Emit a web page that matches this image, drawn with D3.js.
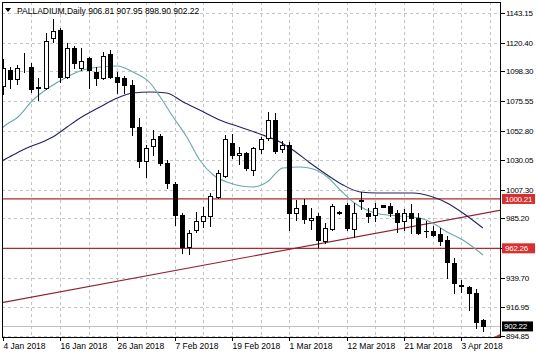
<!DOCTYPE html>
<html><head><meta charset="utf-8">
<script src="https://cdn.jsdelivr.net/npm/d3@7"></script>
<style>body{margin:0;background:#fff}svg{display:block;font-family:"Liberation Sans",Arial,sans-serif}</style>
</head><body><svg id="c" width="536" height="357"></svg>
<script>
const symbolName = "PALLADIUM,Daily";
const opens = [1087.03,1099.33,1092.41,1100.5,1101.64,1085.49,1085.49,1123.93,1130.08,1093.95,
1116.24,1100.87,1108.56,1097.79,1093.18,1111.63,1093.95,1093.18,1087.80,1055.52,
1029.38,1040.91,1048.60,1027.84,1011.70,987.87,963.27,976.34,983.26,987.10,
1001.71,1017.85,1043.22,1033.99,1035.53,1022.46,1038.60,1047.06,1060.90,1038.60,
1041.68,989.41,995.56,984.03,987.10,967.88,977.11,990.0,995.56,977.11,
998.63,989.41,987.87,995.2,994.79,989.41,983.26,989.41,985.56,975.57,
975.57,973.26,968.65,950.97,933.68,932.52,927.91,906.81];
const highs = [1107.79,1101.64,1103.17,1112.40,1104.71,1093.18,1127.77,1138.53,1131.62,1120.09,
1117.78,1116.24,1109.32,1101.64,1113.17,1114.70,1097.79,1094.72,1091.64,1062.43,
1041.68,1053.21,1050.13,1030.15,1013.24,989.41,976.34,990.18,994.02,1004.78,
1022.46,1049.37,1050.13,1040.14,1036.30,1040.14,1047.83,1067.05,1066.28,1044.75,
1043.98,999.40,1000.17,993.25,989.41,981.72,996.33,990.6,997.09,997.09,
1005.8,993.25,997.09,995.56,997.09,991.71,992.48,996.33,989.41,983.26,
979.41,977.88,971.73,954.82,937.90,933.29,930.99,907.95];
const lows = [1080.88,1085.49,1088.57,1097.79,1082.42,1076.27,1084.73,1120.85,1090.11,1093.18,
1100.87,1099.33,1085.49,1087.80,1092.41,1093.18,1081.65,1081.65,1049.37,1024.77,
1017.08,1033.99,1026.30,1008.62,980.18,958.66,957.89,974.80,978.65,979.41,
1000.94,1017.08,1031.69,1027.07,1022.46,1018.62,1035.53,1045.52,1035.53,1036.30,
976.34,984.03,981.72,977.11,963.27,966.35,976.34,988.6,976.34,970.96,
992.48,982.49,983.26,994.02,987.10,974.80,976.34,974.03,973.26,970.96,
971.73,964.81,939.44,927.91,928.68,914.84,901.01,898.90];
const closes = [1100.87,1092.41,1100.87,1101.2,1084.73,1085.9,1121.62,1129.31,1093.95,1116.24,
1104.71,1106.25,1099.33,1093.18,1110.09,1093.95,1090.11,1087.80,1055.52,1029.38,
1039.37,1046.29,1027.84,1012.47,987.87,963.27,974.03,983.26,987.10,1002.47,
1020.15,1046.29,1033.99,1035.53,1024.00,1039.37,1046.29,1060.90,1037.07,1041.68,
989.41,993.25,984.79,985.56,968.65,977.88,994.79,989.1,977.88,989.41,
999.40,987.10,993.25,994.4,989.41,982.49,989.41,985.56,974.03,975.2,
972.50,967.88,951.74,935.60,932.91,927.91,905.62,902.22];

const fastMAIdx = [-0.35,0.63,2.0,4.25,6.6,9.0,11.2,13.6,16.0,18.2,20.6,22.0,23.8,25.7,27.5,29.4,31.7,34.9,36.9,39.1,41.5,43.3,45.3,47.1,48.9,50.8,52.6,55.4,58.2,60.0,62.0,64.2,65.6,67];
const fastMAVal = [1053.21,1057.82,1062.43,1076.27,1086.26,1093.95,1099.33,1101.64,1102.41,1097.79,1089.33,1078.57,1063.20,1047.83,1030.15,1018.62,1012.47,1009.40,1013.24,1024.00,1024.77,1023.23,1017.08,1007.09,997.86,991.71,988.64,987.10,985.56,981.72,974.80,968.65,963.27,957.12];
const slowMAIdx = [-0.35,1.46,3.4,5.2,7.0,9.0,10.4,13.6,16.0,18.2,20.6,22.9,25.2,27.5,30.3,33.1,35.9,38.7,40.5,42.9,45.3,47.5,49.9,52.2,54.5,57.3,59.6,62.0,64.2,67];
const slowMAVal = [1028.61,1033.99,1039.37,1043.22,1047.83,1055.52,1060.90,1070.89,1077.81,1081.65,1082.42,1081.65,1074.73,1068.58,1060.90,1055.52,1050.13,1043.98,1037.83,1027.84,1018.62,1010.93,1005.55,1004.78,1004.78,1004.78,1002.47,997.09,989.41,977.88];

const levels = [1000.21, 962.26];
const trendIdx = [-0.4, 69.6];
const trendVal = [920.2, 991.7];
const priceTicks = [1143.15,1120.40,1098.30,1075.55,1052.80,1030.05,1007.30,985.20,962.45,939.70,916.95,894.85];
const dateLabels = ["4 Jan 2018","16 Jan 2018","26 Jan 2018","7 Feb 2018","19 Feb 2018","1 Mar 2018","12 Mar 2018","21 Mar 2018","3 Apr 2018"];
const barsPerLabel = 8, barsPerGrid = 4;
const lastPrice = 902.22;

// ---- layout
const L = 2, R = 501, T = 2, B = 337;
const FS = "8px", LS = "-0.25px";
const svg = d3.select("#c");
const x = d3.scaleLinear().domain([0, 67]).range([2.5, 482.9]);
const y = d3.scaleLinear().domain([894.09, 1151.60]).range([B, T]);
const fmt = d3.format(".2f");

svg.append("defs").append("clipPath").attr("id","plot")
  .append("rect").attr("x",L).attr("y",T).attr("width",R-L).attr("height",B-T);

const grid = svg.append("g").attr("stroke","#c4c4c4").attr("stroke-dasharray","3,3").attr("shape-rendering","crispEdges");
priceTicks.forEach(p=>{
  const yy = Math.round(y(p))+0.5;
  grid.append("line").attr("x1",L).attr("x2",R).attr("y1",yy).attr("y2",yy);
});
for(let i=barsPerGrid;x(i)<R-2;i+=barsPerGrid){
  const xx = Math.round(x(i))+0.5;
  grid.append("line").attr("x1",xx).attr("x2",xx).attr("y1",T).attr("y2",B);
}

const plot = svg.append("g").attr("clip-path","url(#plot)");
plot.append("line").attr("x1",L).attr("x2",R).attr("y1",Math.round(y(lastPrice))+0.5).attr("y2",Math.round(y(lastPrice))+0.5)
  .attr("stroke","#c0c0c0").attr("shape-rendering","crispEdges");
levels.forEach(v=>{
  plot.append("line").attr("x1",L).attr("x2",R).attr("y1",y(v)).attr("y2",y(v))
    .attr("stroke","#b02a2a").attr("stroke-width",1.2);
});
plot.append("line").attr("x1",x(trendIdx[0])).attr("x2",x(trendIdx[1]))
  .attr("y1",y(trendVal[0])).attr("y2",y(trendVal[1]))
  .attr("stroke","#8e2233").attr("stroke-width",1.1);

const lineGen = d3.line().x(d=>x(d[0])).y(d=>y(d[1])).curve(d3.curveMonotoneX);
plot.append("path").attr("d",lineGen(slowMAIdx.map((v,i)=>[v,slowMAVal[i]])))
  .attr("fill","none").attr("stroke","#222260").attr("stroke-width",1.1);
plot.append("path").attr("d",lineGen(fastMAIdx.map((v,i)=>[v,fastMAVal[i]])))
  .attr("fill","none").attr("stroke","#6aa8a8").attr("stroke-width",1.1);

const cg = plot.append("g").attr("shape-rendering","crispEdges");
opens.forEach((o,i)=>{
  const c = closes[i], h = highs[i], l = lows[i];
  const cx = Math.round(x(i));
  cg.append("line").attr("x1",cx+0.5).attr("x2",cx+0.5).attr("y1",Math.round(y(h))).attr("y2",Math.round(y(l))+1).attr("stroke","#000");
  const top = Math.round(y(Math.max(o,c))), bot = Math.round(y(Math.min(o,c)));
  if (c >= o) {
    cg.append("rect").attr("x",cx-1.5).attr("y",top+0.5).attr("width",4).attr("height",Math.max(0,bot-top))
      .attr("fill","#fff").attr("stroke","#000");
  } else {
    cg.append("rect").attr("x",cx-2).attr("y",top).attr("width",5).attr("height",Math.max(1,bot-top+1)).attr("fill","#000");
  }
});

svg.append("rect").attr("x",L+0.5).attr("y",T+0.5).attr("width",R-L-1).attr("height",B-T)
  .attr("fill","none").attr("stroke","#000").attr("shape-rendering","crispEdges");

// right axis
const ra = svg.append("g").attr("font-size",FS).attr("letter-spacing",LS).attr("fill","#000");
priceTicks.forEach(p=>{
  const yy = Math.round(y(p))+0.5;
  ra.append("line").attr("x1",R).attr("x2",R+4).attr("y1",yy).attr("y2",yy).attr("stroke","#000").attr("shape-rendering","crispEdges");
  const hidden = levels.some(v=>Math.abs(y(v)-y(p))<6);
  if (!hidden) ra.append("text").attr("x",R+5).attr("y",yy).attr("dy","0.35em").text(fmt(p));
});
levels.forEach(v=>{
  const yy = y(v);
  svg.append("rect").attr("x",R+1).attr("y",yy-5).attr("width",33).attr("height",10).attr("fill","#d63030");
  svg.append("text").attr("x",R+4).attr("y",yy).attr("dy","0.35em").attr("font-size",FS).attr("letter-spacing",LS).attr("fill","#fff").text(fmt(v));
});
{
  const yy = y(lastPrice);
  svg.append("rect").attr("x",R+1).attr("y",yy-5).attr("width",31).attr("height",10).attr("fill","#000");
  svg.append("text").attr("x",R+3).attr("y",yy).attr("dy","0.35em").attr("font-size",FS).attr("letter-spacing",LS).attr("fill","#fff").text(fmt(lastPrice));
}

// bottom axis
const ba = svg.append("g").attr("font-size","8.5px").attr("fill","#000");
dateLabels.forEach((t,k)=>{
  const xx = Math.round(x(k*barsPerLabel))+0.5;
  ba.append("line").attr("x1",xx).attr("x2",xx).attr("y1",B).attr("y2",B+4).attr("stroke","#000").attr("shape-rendering","crispEdges");
  ba.append("text").attr("x",xx).attr("y",B+12).text(t);
});

svg.append("path").attr("d",`M${R-7},${B} L${R-1},${B} L${R-1},${B-3} Z`).attr("fill","#d03030");

// header
svg.append("path").attr("d","M5,8 L11,8 L8,12 Z").attr("fill","#000");
svg.append("text").attr("x",17).attr("y",13.5).attr("font-size","8.5px").attr("fill","#000")
  .text(`${symbolName}  ${fmt(opens[67])} ${fmt(highs[67])} ${fmt(lows[67])} ${fmt(closes[67])}`);
</script></body></html>
